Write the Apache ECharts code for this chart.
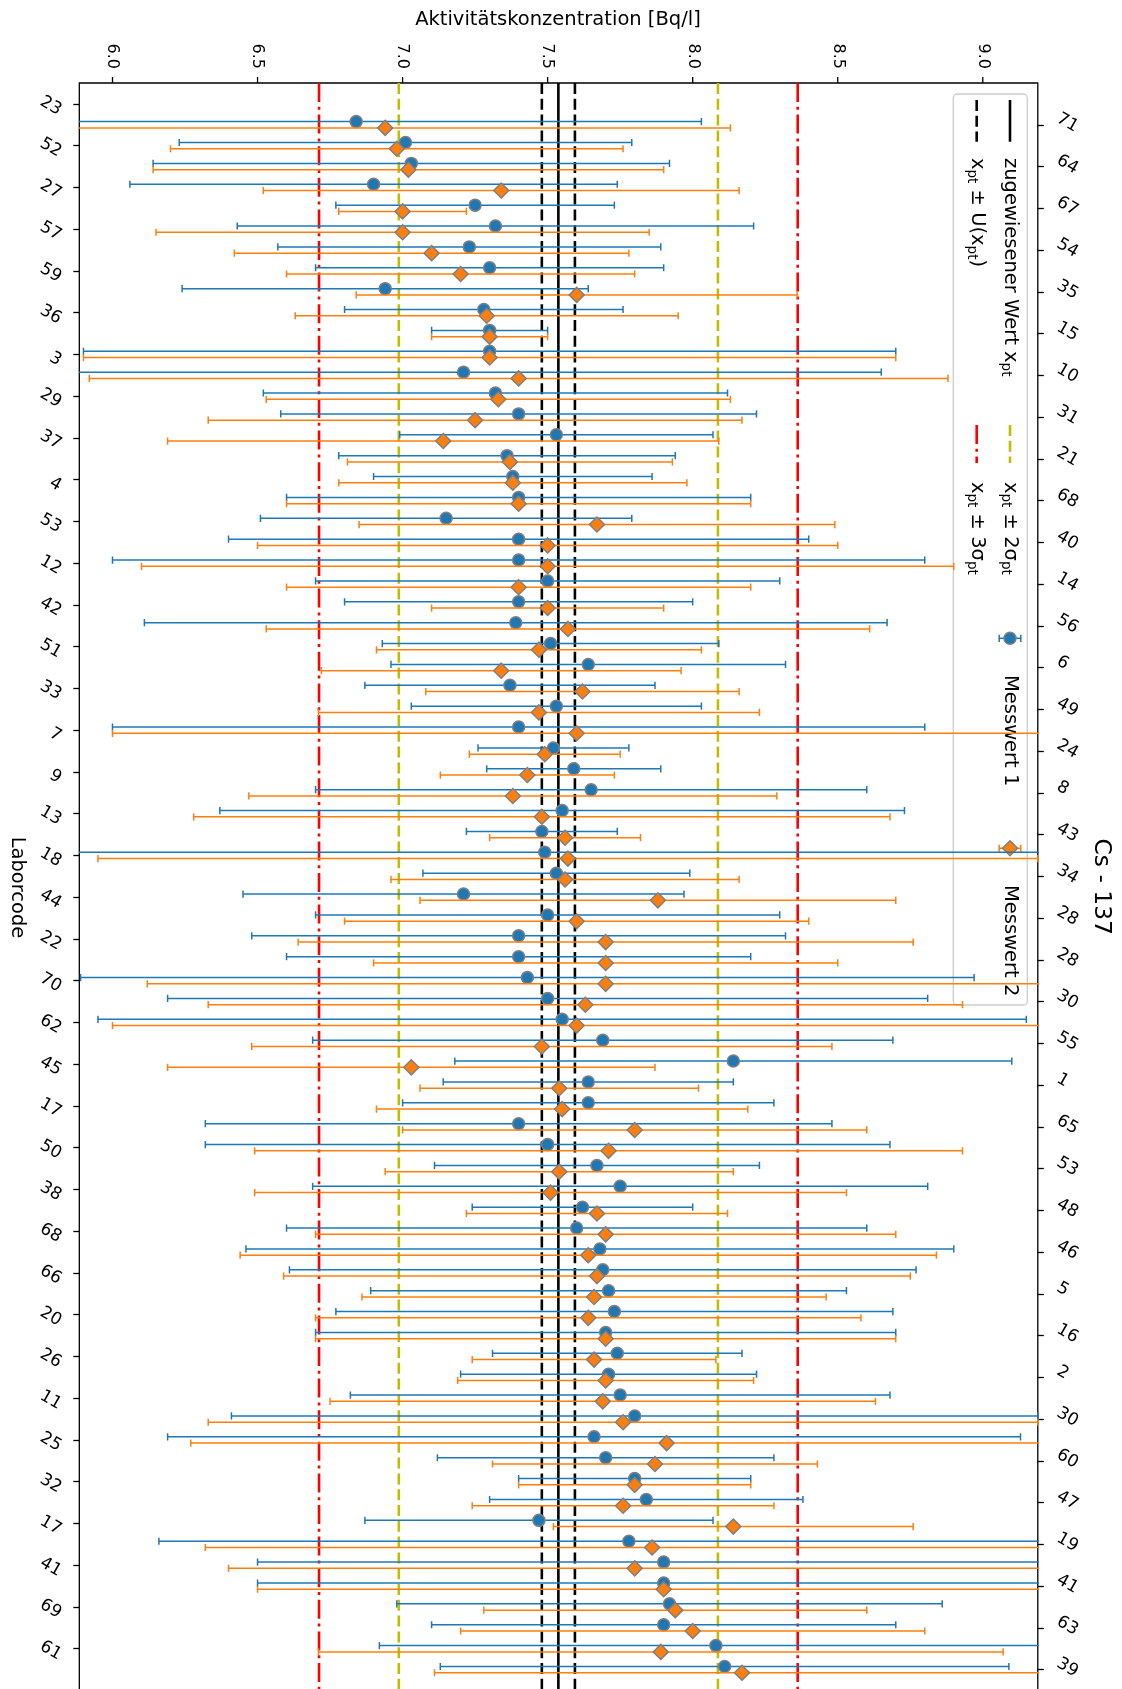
<!DOCTYPE html>
<html>
<head>
<meta charset="utf-8">
<title>Cs - 137</title>
<script src="https://cdn.jsdelivr.net/npm/echarts@6/dist/echarts.min.js"></script>
<style>
  html, body { margin: 0; padding: 0; overflow: hidden; background: #fff; }
  #chart { width: 1122px; height: 1700px; }
</style>
</head>
<body>
<div id="chart"></div>
<script>
const FONT = 'DejaVu Sans';

// Laborcodes in Reihenfolge der Positionen 0..75 (gerade Positionen links, ungerade rechts)
const labCodes = ['23','71','52','64','27','67','57','54','59','35','36','15','3','10','29','31','37','21','4','68',
  '53','40','12','14','42','56','51','6','33','49','7','24','9','8','13','43','18','34','44','28',
  '22','28','70','30','62','55','45','1','17','65','50','53','38','48','68','46','66','5','20','16',
  '26','2','11','30','25','60','32','47','17','19','41','41','69','63','61','39'];

// Messwerte [Bq/l] mit erweiterter Unsicherheit; Zeile n liegt auf Position n (n = 1..75)
const wert1 = [6.84,7.01,7.03,6.90,7.25,7.32,7.23,7.30,6.94,7.28,
  7.30,7.30,7.21,7.32,7.40,7.53,7.36,7.38,7.40,7.15,
  7.40,7.40,7.50,7.40,7.39,7.51,7.64,7.37,7.53,7.40,
  7.52,7.59,7.65,7.55,7.48,7.49,7.53,7.21,7.50,7.40,
  7.40,7.43,7.50,7.55,7.69,8.14,7.64,7.64,7.40,7.50,
  7.67,7.75,7.62,7.60,7.68,7.69,7.71,7.73,7.70,7.74,
  7.71,7.75,7.80,7.66,7.70,7.80,7.84,7.47,7.78,7.90,
  7.90,7.92,7.90,8.08,8.11];
const unsich1 = [1.19,0.78,0.89,0.84,0.48,0.89,0.66,0.60,0.70,0.48,
  0.20,1.40,1.44,0.80,0.82,0.54,0.58,0.48,0.80,0.64,
  1.00,1.40,0.80,0.60,1.28,0.58,0.68,0.50,0.50,1.40,
  0.26,0.30,0.95,1.18,0.26,1.80,0.46,0.76,0.80,0.92,
  0.80,1.54,1.31,1.60,1.00,0.96,0.50,0.64,1.08,1.18,
  0.56,1.06,0.38,1.00,1.22,1.08,0.82,0.96,1.00,0.43,
  0.51,0.93,1.39,1.47,0.58,0.40,0.54,0.60,1.62,1.40,
  1.40,0.94,0.80,1.16,0.98];
const wert2 = [6.94,6.98,7.02,7.34,7.00,7.00,7.10,7.20,7.60,7.29,
  7.30,7.30,7.40,7.33,7.25,7.14,7.37,7.38,7.40,7.67,
  7.50,7.50,7.40,7.50,7.57,7.47,7.34,7.62,7.47,7.60,
  7.49,7.43,7.38,7.48,7.56,7.57,7.56,7.88,7.60,7.70,
  7.70,7.70,7.63,7.60,7.48,7.03,7.54,7.55,7.80,7.71,
  7.54,7.51,7.67,7.70,7.64,7.67,7.66,7.64,7.70,7.66,
  7.70,7.69,7.76,7.91,7.87,7.80,7.76,8.14,7.86,7.80,
  7.90,7.94,8.00,7.89,8.17];
const unsich2 = [1.19,0.78,0.88,0.82,0.22,0.85,0.68,0.60,0.76,0.66,
  0.20,1.40,1.48,0.80,0.92,0.95,0.56,0.60,0.80,0.82,
  1.00,1.40,0.80,0.40,1.04,0.56,0.62,0.54,0.76,1.60,
  0.26,0.30,0.91,1.20,0.26,1.62,0.60,0.82,0.80,1.06,
  0.80,1.58,1.30,1.60,1.00,0.84,0.48,0.64,0.80,1.22,
  0.60,1.02,0.45,1.00,1.20,1.08,0.80,0.94,1.00,0.42,
  0.51,0.94,1.43,1.64,0.56,0.40,0.52,0.62,1.54,1.40,
  1.40,0.66,0.80,1.18,1.06];

// Zugewiesener Wert, seine Unsicherheit und Standardabweichung für die Eignungsbeurteilung
const xPt = 7.537;
const uXPt = 0.057;
const sigmaPt = 0.275;

const xTicks = [6.0, 6.5, 7.0, 7.5, 8.0, 8.5, 9.0];

// ---------------------------------------------------------------
const BLUE = '#1f77b4', ORANGE = '#ff7f0e', EDGE = '#7f7f7f';
const OLIVE = '#bfbf00', RED = '#ff0000';
const LW = 2.6;
const DASH = [11, 4.8];
const DASHDOT = [19, 4.8, 3, 4.8];

// Kategorienachse: Positionen -1 .. 76 (leere Randpositionen oben und unten)
const slots = [''].concat(labCodes, ['']);
const leftShow = (k) => k >= 1 && k <= labCodes.length && (k - 1) % 2 === 0;
const rightShow = (k) => k >= 1 && k <= labCodes.length && (k - 1) % 2 === 1;

const OFF = 0.15;
const data1 = wert1.map((v, i) => [v, i + 1 - OFF, unsich1[i]]);
const data2 = wert2.map((v, i) => [v, i + 1 + OFF, unsich2[i]]);

const refLines = [
  { v: xPt, color: '#000', dash: null },
  { v: xPt - uXPt, color: '#000', dash: DASH },
  { v: xPt + uXPt, color: '#000', dash: DASH },
  { v: xPt - 2 * sigmaPt, color: OLIVE, dash: DASH },
  { v: xPt + 2 * sigmaPt, color: OLIVE, dash: DASH },
  { v: xPt - 3 * sigmaPt, color: RED, dash: DASHDOT },
  { v: xPt + 3 * sigmaPt, color: RED, dash: DASHDOT }
];

function errorBars(color) {
  return function (params, api) {
    const v = api.value(0), pos = api.value(1), u = api.value(2);
    const a = api.coord([v - u, pos]);
    const b = api.coord([v + u, pos]);
    const cap = 3.6;
    const st = { stroke: color, lineWidth: 1.5 };
    return {
      type: 'group',
      children: [
        { type: 'line', shape: { x1: a[0], y1: a[1], x2: b[0], y2: b[1] }, style: st },
        { type: 'line', shape: { x1: a[0], y1: a[1] - cap, x2: a[0], y2: a[1] + cap }, style: st },
        { type: 'line', shape: { x1: b[0], y1: b[1] - cap, x2: b[0], y2: b[1] + cap }, style: st }
      ]
    };
  };
}

const catAxisBase = {
  type: 'category',
  data: slots,
  boundaryGap: false,
  inverse: true,
  axisLine: { show: false },
  splitLine: { show: false },
  axisPointer: { show: false }
};

// Legende: im lokalen Koordinatensystem waagerecht aufgebaut, dann um 90° gedreht
const rowA = 17.3, rowB = 50.6;
const legendFont = 19.5;
const richSub = { sub: { fontSize: 13.5, verticalAlign: 'bottom', fontFamily: FONT, fill: '#000' } };
function legendText(x, y, text) {
  return {
    type: 'text', x: x, y: y,
    style: {
      text: text, fontSize: legendFont, fontFamily: FONT, fill: '#000',
      lineHeight: 24, align: 'left', textAlign: 'left',
      verticalAlign: 'middle', textVerticalAlign: 'middle', rich: richSub
    }
  };
}
function legendLine(x1, x2, y, color, dash) {
  return {
    type: 'line', shape: { x1: x1, y1: y, x2: x2, y2: y },
    style: { stroke: color, lineWidth: LW, lineDash: dash || null }
  };
}
function legendErr(cx, cy, color) {
  const st = { stroke: color, lineWidth: 1.5 };
  return [
    { type: 'line', shape: { x1: cx, y1: cy - 10.8, x2: cx, y2: cy + 10.8 }, style: st },
    { type: 'line', shape: { x1: cx - 3.6, y1: cy - 10.8, x2: cx + 3.6, y2: cy - 10.8 }, style: st },
    { type: 'line', shape: { x1: cx - 3.6, y1: cy + 10.8, x2: cx + 3.6, y2: cy + 10.8 }, style: st }
  ];
}
const mx1 = 544.3, mx2 = 754.3, dHalf = 7.5;

const legendGroup = {
  type: 'group', x: 1027.3, y: 94, rotation: -Math.PI / 2, z: 100,
  children: [
    { type: 'rect', shape: { x: 0, y: 0, width: 911, height: 74, r: 4 },
      style: { fill: 'rgba(255,255,255,0.8)', stroke: '#cccccc', lineWidth: 1.3 } },
    legendLine(6, 47.7, rowA, '#000', null),
    legendText(64, rowA, 'zugewiesener Wert x{sub|pt}'),
    legendLine(6, 47.7, rowB, '#000', DASH),
    legendText(64, rowB, 'x{sub|pt} ± U(x{sub|pt})'),
    legendLine(331, 369, rowA, OLIVE, DASH),
    legendLine(331, 369, rowB, RED, DASHDOT),
    legendText(388, rowA, 'x{sub|pt} ± 2σ{sub|pt}'),
    legendText(388, rowB, 'x{sub|pt} ± 3σ{sub|pt}'),
    ...legendErr(mx1, rowA, BLUE),
    { type: 'circle', shape: { cx: mx1, cy: rowA, r: 6 },
      style: { fill: BLUE, stroke: EDGE, lineWidth: 1.5 } },
    legendText(581, rowA, 'Messwert 1'),
    ...legendErr(mx2, rowA, ORANGE),
    { type: 'polygon', shape: { points: [[mx2 - dHalf, rowA], [mx2, rowA - dHalf], [mx2 + dHalf, rowA], [mx2, rowA + dHalf]] },
      style: { fill: ORANGE, stroke: EDGE, lineWidth: 1.5 } },
    legendText(791, rowA, 'Messwert 2')
  ]
};

const chart = echarts.init(document.getElementById('chart'), null, { renderer: 'canvas' });

const option = {
  animation: false,
  backgroundColor: '#fff',
  textStyle: { fontFamily: FONT },
  grid: {
    show: true, left: 79.3, right: 84.2, top: 83, bottom: 9.5,
    borderColor: '#000', borderWidth: 1.3, backgroundColor: 'transparent'
  },
  xAxis: {
    type: 'value', position: 'top', min: 5.8856, max: 9.1896,
    axisLine: { show: false },
    splitLine: { show: false },
    axisTick: { show: false },
    axisLabel: {
      customValues: xTicks, rotate: -90, margin: 14,
      align: 'right', verticalAlign: 'middle',
      fontSize: 16, fontFamily: FONT, color: '#000',
      formatter: (v) => Number(v).toFixed(1)
    }
  },
  yAxis: [
    { type: 'value', min: -1, max: 76, inverse: true, show: false },
    Object.assign({}, catAxisBase, {
      position: 'left',
      axisTick: { interval: leftShow, length: 6, lineStyle: { color: '#000', width: 1.3 } },
      axisLabel: {
        interval: leftShow, rotate: -30, margin: 15,
        align: 'right', verticalAlign: 'top',
        fontSize: 17, fontFamily: FONT, color: '#000'
      }
    }),
    Object.assign({}, catAxisBase, {
      position: 'right',
      axisTick: { interval: rightShow, length: 6, lineStyle: { color: '#000', width: 1.3 } },
      axisLabel: {
        interval: rightShow, rotate: -30, margin: 16,
        align: 'left', verticalAlign: 'bottom',
        fontSize: 17, fontFamily: FONT, color: '#000'
      }
    })
  ],
  series: [
    {
      type: 'custom', name: 'Referenz', silent: true, z: 1,
      xAxisIndex: 0, yAxisIndex: 0,
      data: refLines.map((r) => [r.v, 0]),
      encode: { x: 0, y: 1 },
      renderItem: function (params, api) {
        const r = refLines[params.dataIndex];
        const x = api.coord([r.v, 0])[0];
        const cs = params.coordSys;
        return {
          type: 'line',
          shape: { x1: x, y1: cs.y, x2: x, y2: cs.y + cs.height },
          style: { stroke: r.color, lineWidth: LW, lineDash: r.dash }
        };
      }
    },
    {
      // Teilstriche der Werteachse am oberen Rand
      type: 'custom', name: 'Teilstriche', silent: true, z: 6,
      xAxisIndex: 0, yAxisIndex: 0,
      data: xTicks.map((v) => [v, -1]),
      encode: { x: 0, y: 1 },
      renderItem: function (params, api) {
        const x = api.coord([api.value(0), -1])[0];
        const cs = params.coordSys;
        return {
          type: 'line',
          shape: { x1: x, y1: cs.y, x2: x, y2: cs.y - 6 },
          style: { stroke: '#000', lineWidth: 1.3 }
        };
      }
    },
    {
      type: 'custom', name: 'Messwert 1 Unsicherheit', silent: true, z: 2, clip: true,
      xAxisIndex: 0, yAxisIndex: 0,
      data: data1, encode: { x: 0, y: 1 },
      renderItem: errorBars(BLUE)
    },
    {
      type: 'scatter', name: 'Messwert 1', silent: true, z: 3,
      xAxisIndex: 0, yAxisIndex: 0,
      data: data1.map((d) => [d[0], d[1]]),
      symbol: 'circle', symbolSize: 12,
      itemStyle: { color: BLUE, borderColor: EDGE, borderWidth: 1.5, opacity: 1 }
    },
    {
      type: 'custom', name: 'Messwert 2 Unsicherheit', silent: true, z: 4, clip: true,
      xAxisIndex: 0, yAxisIndex: 0,
      data: data2, encode: { x: 0, y: 1 },
      renderItem: errorBars(ORANGE)
    },
    {
      type: 'scatter', name: 'Messwert 2', silent: true, z: 5,
      xAxisIndex: 0, yAxisIndex: 0,
      data: data2.map((d) => [d[0], d[1]]),
      symbol: 'diamond', symbolSize: 15,
      itemStyle: { color: ORANGE, borderColor: EDGE, borderWidth: 1.5, opacity: 1 }
    }
  ],
  graphic: [
    legendGroup,
    {
      type: 'text', x: 558, y: 19.5, z: 100,
      style: { text: 'Aktivitätskonzentration [Bq/l]', fontSize: 19.5, fontFamily: FONT, fill: '#000',
        align: 'center', textAlign: 'center', verticalAlign: 'middle', textVerticalAlign: 'middle' }
    },
    {
      type: 'text', x: 17.5, y: 887.5, rotation: -Math.PI / 2, z: 100,
      style: { text: 'Laborcode', fontSize: 19.5, fontFamily: FONT, fill: '#000',
        align: 'center', textAlign: 'center', verticalAlign: 'middle', textVerticalAlign: 'middle' }
    },
    {
      type: 'text', x: 1101, y: 886.7, rotation: -Math.PI / 2, z: 100,
      style: { text: 'Cs - 137', fontSize: 23.4, fontFamily: FONT, fill: '#000',
        align: 'center', textAlign: 'center', verticalAlign: 'middle', textVerticalAlign: 'middle' }
    }
  ]
};

chart.setOption(option);
</script>
</body>
</html>
